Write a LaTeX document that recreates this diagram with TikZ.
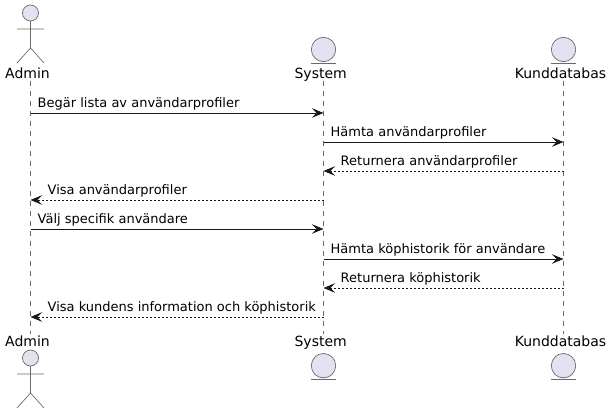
\documentclass[tikz,border=0pt]{standalone}
\usepackage{fontspec}
\setmainfont{DejaVu Sans}
\usetikzlibrary{arrows.meta}
\definecolor{partfill}{HTML}{E2E2F0}
\definecolor{partline}{HTML}{6A6A6A}
\definecolor{msgline}{HTML}{181818}
\tikzset{
  x=1pt,y=-1pt,
  partshape/.style={draw=partline,fill=partfill,line width=.7pt},
  partstroke/.style={draw=partline,line width=.7pt},
  lifeline/.style={draw=partline,line width=.7pt,dash pattern=on 5pt off 5pt},
  partname/.style={font=\fontsize{14}{16}\selectfont,inner sep=0pt,anchor=base,text=black},
  msglabel/.style={font=\fontsize{13}{15}\selectfont,inner sep=0pt,anchor=base west,text=black},
  msg/.style={draw=msgline,line width=.9pt,-{Stealth[length=11.5pt,width=9.5pt,inset=4.5pt]}},
  backmsg/.style={msg,dash pattern=on 2pt off 2pt},
}
\newcommand{\actorfig}[3]{%
  \draw[partshape] (#2,#3) circle[radius=8];
  \draw[partstroke] (#2,#3+8) -- (#2,#3+35) (#2-13.5,#3+16) -- (#2+13.5,#3+16)
    (#2-13.5,#3+50) -- (#2,#3+35) -- (#2+13.5,#3+50);
}
\newcommand{\entityfig}[3]{%
  \draw[partshape] (#2,#3) circle[radius=12.2];
  \draw[partstroke] (#2-12.2,#3+13.5) -- (#2+12.2,#3+13.5);
}
\begin{document}
\begin{tikzpicture}
\useasboundingbox (0,0) rectangle (612,414);
% lifeline ends
\coordinate (at) at (30.5,81);
\coordinate (ab) at (30.5,334);
\coordinate (st) at (323.5,81);
\coordinate (sb) at (323.5,334);
\coordinate (kt) at (563.5,81);
\coordinate (kb) at (563.5,334);
\draw[lifeline] (at) -- (ab);
\draw[lifeline] (st) -- (sb);
\draw[lifeline] (kt) -- (kb);
% participants
\actorfig{a1}{30.5}{13}
\actorfig{a2}{30.5}{358}
\entityfig{s1}{323.5}{49.5}
\entityfig{s2}{323.5}{365.7}
\entityfig{k1}{563.5}{49.5}
\entityfig{k2}{563.5}{365.7}
\node[partname] (adminT) at (27.5,78.5) {Admin};
\node[partname] (systemT) at (320.7,78.5) {System};
\node[partname] (kundT) at (560.5,78.5) {Kunddatabas};
\node[partname] (adminB) at (27.5,346) {Admin};
\node[partname] (systemB) at (320.7,346) {System};
\node[partname] (kundB) at (560.5,346) {Kunddatabas};
% message anchors
\foreach \n/\y in {1/113,2/142,3/171,4/200,5/229,6/259,7/288,8/317}{
  \coordinate (a\n) at (30.5,\y);
  \coordinate (s\n) at (323.5,\y);
  \coordinate (k\n) at (563.5,\y);
}
\draw[msg] (a1) -- (s1);
\draw[msg] (s2) -- (k2);
\draw[backmsg] (k3) -- (s3);
\draw[backmsg] (s4) -- (a4);
\draw[msg] (a5) -- (s5);
\draw[msg] (s6) -- (k6);
\draw[backmsg] (k7) -- (s7);
\draw[backmsg] (s8) -- (a8);
\node[msglabel] (m1) at (37.5,107.5) {Begär lista av användarprofiler};
\node[msglabel] (m2) at (330.5,136.5) {Hämta användarprofiler};
\node[msglabel] (m3) at (340.5,165.5) {Returnera användarprofiler};
\node[msglabel] (m4) at (47.5,194.5) {Visa användarprofiler};
\node[msglabel] (m5) at (37.5,223.5) {Välj specifik användare};
\node[msglabel] (m6) at (330.5,253.5) {Hämta köphistorik för användare};
\node[msglabel] (m7) at (340.5,282.5) {Returnera köphistorik};
\node[msglabel] (m8) at (47.5,311.5) {Visa kundens information och köphistorik};
\end{tikzpicture}
\end{document}
